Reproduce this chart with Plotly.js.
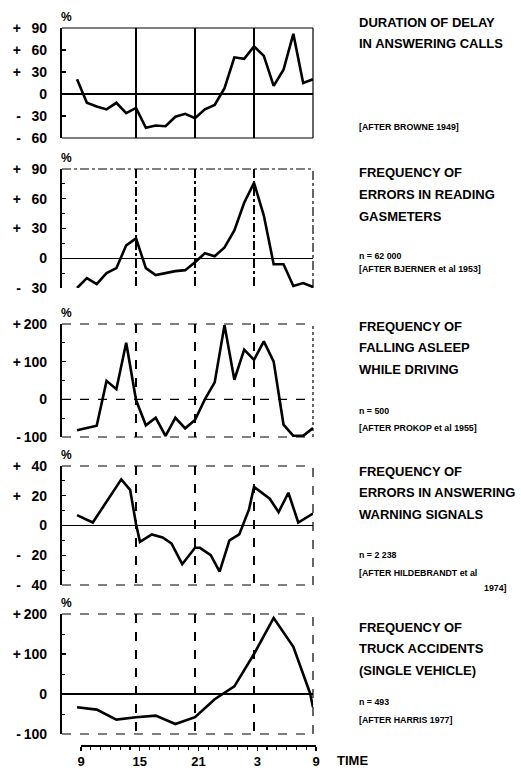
<!DOCTYPE html>
<html><head><meta charset="utf-8">
<script src="https://cdn.plot.ly/plotly-3.0.1.min.js"></script>
<style>html,body{margin:0;padding:0;background:#fff}</style>
</head><body><div id="chart" style="width:521px;height:771px"></div>
<script>
// ---------- DATA ----------
const hours = [9,10,11,12,13,14,15,16,17,18,19,20,21,22,23,24,25,26,27,28,29,30,31,32,33];
const delayCalls = [20,-12,-17,-21,-12,-26,-19,-46,-43,-44,-31,-27,-33,-21,-15,8,50,48,65,52,11,33,82,15,20];
const gasmeterErrors = [-30,-20,-26,-15,-10,13,20,-10,-17,-15,-13,-12,-4,5,2,11,28,56,76,43,-6,-6,-28,-25,-29];
const fallingAsleep = [-82,-76,-70,49,27,150,-2,-69,-49,-97,-49,-77,-55,0,45,197,52,132,105,154,100,-67,-97,-97,-76];
const warningHours = [9.0,10.6,13.5,14.4,15.0,15.4,16.6,17.7,18.6,19.7,21.0,21.5,22.6,23.5,24.5,25.5,26.5,27.0,28.6,29.5,30.5,31.5,33.0];
const warningErrors = [7,2,31,24,1,-11,-6,-8,-12,-26,-15,-15,-20,-31,-10,-6,11,26,18,9,22,2,8];
const truckHours = [9,11,13,15,17,19,21,23,25,27,29,31,32.7,33];
const truckAccidents = [-33,-39,-64,-58,-54,-75,-58,-13,19,100,190,118,2,-33];

const gridHours = [15,21,27];
const timeTickVals = [9,15,21,27,33];
const timeTickText = ["9","15","21","3","9"];

const yTickVals = [[-60,-30,0,30,60,90],[-30,0,30,60,90],[-100,0,100,200],[-40,-20,0,20,40],[-100,0,100,200]];
const yTickText = [
  ["-\u2009\u200760","-\u2009\u200730","0","+\u2009\u200730","+\u2009\u200760","+\u2009\u200790"],
  ["-\u2009\u200730","0","+\u2009\u200730","+\u2009\u200760","+\u2009\u200790"],
  ["-\u2009100","0","+\u2009100","+\u2009200"],
  ["-\u2009\u200740","-\u2009\u200720","0","+\u2009\u200720","+\u2009\u200740"],
  ["-\u2009100","0","+\u2009100","+\u2009200"]
];
const yRanges = [[-60,90],[-30,90],[-100,200],[-40,40],[-100,200]];
const yMinor = [null,15,50,10,50];

const titles = [
  ["DURATION OF DELAY","IN ANSWERING CALLS"],
  ["FREQUENCY OF","ERRORS IN READING","GASMETERS"],
  ["FREQUENCY OF","FALLING ASLEEP","WHILE DRIVING"],
  ["FREQUENCY OF","ERRORS IN ANSWERING","WARNING SIGNALS"],
  ["FREQUENCY OF","TRUCK ACCIDENTS","(SINGLE VEHICLE)"]
];
const notes = [
  ["[AFTER BROWNE 1949]"],
  ["n = 62 000","[AFTER BJERNER et al 1953]"],
  ["n = 500","[AFTER PROKOP et al 1955]"],
  ["n = 2 238","[AFTER HILDEBRANDT et al","1974]"],
  ["n = 493","[AFTER HARRIS 1977]"]
];
const unitLabel = "%";
const timeLabel = "TIME";

// ---------- LAYOUT GEOMETRY ----------
const W = 521, H = 771;
const px = v => v / W;
const py = v => 1 - v / H;
const panelTop = [28,169,324,466,614];
const panelBot = [138,288,437,585,734];
const plotL = 62, plotR = 313;
const titleY = [22,173,326,471,627];
const titleStep = 21.5;
const noteY = [[127],[256,269],[411,428],[555,573,588],[702,720]];
const gridDash = ["solid","dashdot","dash","dash","dash"];
const frameDash = [
  {top:"solid",right:"solid",bottom:"solid"},
  {top:"dashdot",right:"dashdot",bottom:null},
  {top:"dash",right:"dot",bottom:"dash"},
  {top:"dash",right:"dash",bottom:"dash"},
  {top:"dash",right:"dash",bottom:"dash"}
];
const FONT = "Liberation Sans, Arial, sans-serif";

const series = [
  {x: hours, y: delayCalls},
  {x: hours, y: gasmeterErrors},
  {x: hours, y: fallingAsleep},
  {x: warningHours, y: warningErrors},
  {x: truckHours, y: truckAccidents}
];

const data = [];
const layout = {
  width: W, height: H,
  margin: {l:0, r:0, t:0, b:0},
  paper_bgcolor: "#fff", plot_bgcolor: "rgba(0,0,0,0)",
  showlegend: false,
  shapes: [], annotations: []
};

series.forEach((s, i) => {
  const n = i + 1;
  const xs = n === 1 ? "" : String(n);
  data.push({
    x: s.x, y: s.y, xaxis: "x" + xs, yaxis: "y" + xs,
    type: "scatter", mode: "lines",
    line: {color: "#000", width: 2.6},
    hoverinfo: "skip", showlegend: false
  });
  layout["xaxis" + xs] = {
    domain: [px(plotL), px(plotR)], range: [7.47, 33], anchor: "y" + xs,
    tickmode: "array", tickvals: gridHours, showticklabels: false, ticks: "",
    showgrid: true, gridcolor: "#000", gridwidth: 1.2, griddash: gridDash[i],
    zeroline: false, showline: false, fixedrange: true
  };
  const ya = {
    domain: [py(panelBot[i]), py(panelTop[i])], range: yRanges[i], anchor: "x" + xs,
    tickmode: "array", tickvals: yTickVals[i], ticktext: yTickText[i],
    showline: true, linewidth: 2.2, linecolor: "#000",
    ticks: "inside", ticklen: 4, tickwidth: 1.2, tickcolor: "#000",
    ticklabelstandoff: 10,
    showgrid: false, zeroline: i !== 2, zerolinecolor: "#000", zerolinewidth: 1.4,
    tickfont: {family: FONT, size: 14, color: "#000", weight: "bold"},
    fixedrange: true
  };
  if (yMinor[i]) ya.minor = {dtick: yMinor[i], tick0: 0, ticks: "inside", ticklen: 3, tickwidth: 1, tickcolor: "#000"};
  layout["yaxis" + xs] = ya;

  const xr = "x" + xs + " domain", yr = "y" + xs + " domain";
  const fd = frameDash[i];
  if (fd.top) layout.shapes.push({type:"line", xref:xr, yref:yr, x0:0, x1:1, y0:1, y1:1, line:{color:"#000", width:1.2, dash:fd.top}});
  if (fd.right) layout.shapes.push({type:"line", xref:xr, yref:yr, x0:1, x1:1, y0:0, y1:1, line:{color:"#000", width:1.2, dash:fd.right}});
  if (fd.bottom) layout.shapes.push({type:"line", xref:xr, yref:yr, x0:0, x1:1, y0:0, y1:0, line:{color:"#000", width:1.2, dash:fd.bottom}});
  if (i === 2) layout.shapes.push({type:"line", xref:xr, yref:"y" + xs, x0:0, x1:1, y0:0, y1:0, line:{color:"#000", width:1.2, dash:"dash"}});

  // % label
  layout.annotations.push({text: unitLabel, xref:"paper", yref:"paper", x: px(plotL + 4), y: py(panelTop[i] - 11),
    xanchor:"center", yanchor:"middle", showarrow:false, font:{family:FONT, size:12, color:"#000", weight:"bold"}});
  // titles
  titles[i].forEach((t, k) => {
    layout.annotations.push({text: t, xref:"paper", yref:"paper", x: px(357), y: py(titleY[i] + k * titleStep),
      xanchor:"left", yanchor:"middle", showarrow:false, font:{family:FONT, size:13, color:"#000", weight:"bold"}});
  });
  notes[i].forEach((t, k) => {
    const last = (i === 3 && k === 2);
    layout.annotations.push({text: t, xref:"paper", yref:"paper", x: last ? px(509) : px(357), y: py(noteY[i][k]),
      xanchor: last ? "right" : "left", yanchor:"middle", showarrow:false, font:{family:FONT, size:8.8, color:"#000", weight:"bold"}});
  });
});

// bottom time axis
data.push({x: [], y: [], xaxis: "x6", yaxis: "y6", type: "scatter", mode: "lines", hoverinfo: "skip", showlegend: false});
layout.xaxis6 = {
  domain: [px(81), px(316)], range: [9, 33], anchor: "y6",
  showline: true, linewidth: 1.6, linecolor: "#000",
  tickmode: "array", tickvals: timeTickVals, ticktext: timeTickText,
  ticks: "outside", ticklen: 4, tickwidth: 1.4, tickcolor: "#000",
  minor: {dtick: 1, tick0: 9, ticks: "outside", ticklen: 3, tickwidth: 1.1, tickcolor: "#000"},
  showgrid: false, zeroline: false,
  tickfont: {family: FONT, size: 13, color: "#000", weight: "bold"},
  fixedrange: true
};
layout.yaxis6 = {domain: [py(745), py(738)], range: [0, 1], anchor: "x6", visible: false, fixedrange: true};
layout.annotations.push({text: timeLabel, xref:"paper", yref:"paper", x: px(335), y: py(760),
  xanchor:"left", yanchor:"middle", showarrow:false, font:{family:FONT, size:13, color:"#000", weight:"bold"}});

Plotly.newPlot("chart", data, layout, {displayModeBar: false, staticPlot: true});
</script>
</body></html>
